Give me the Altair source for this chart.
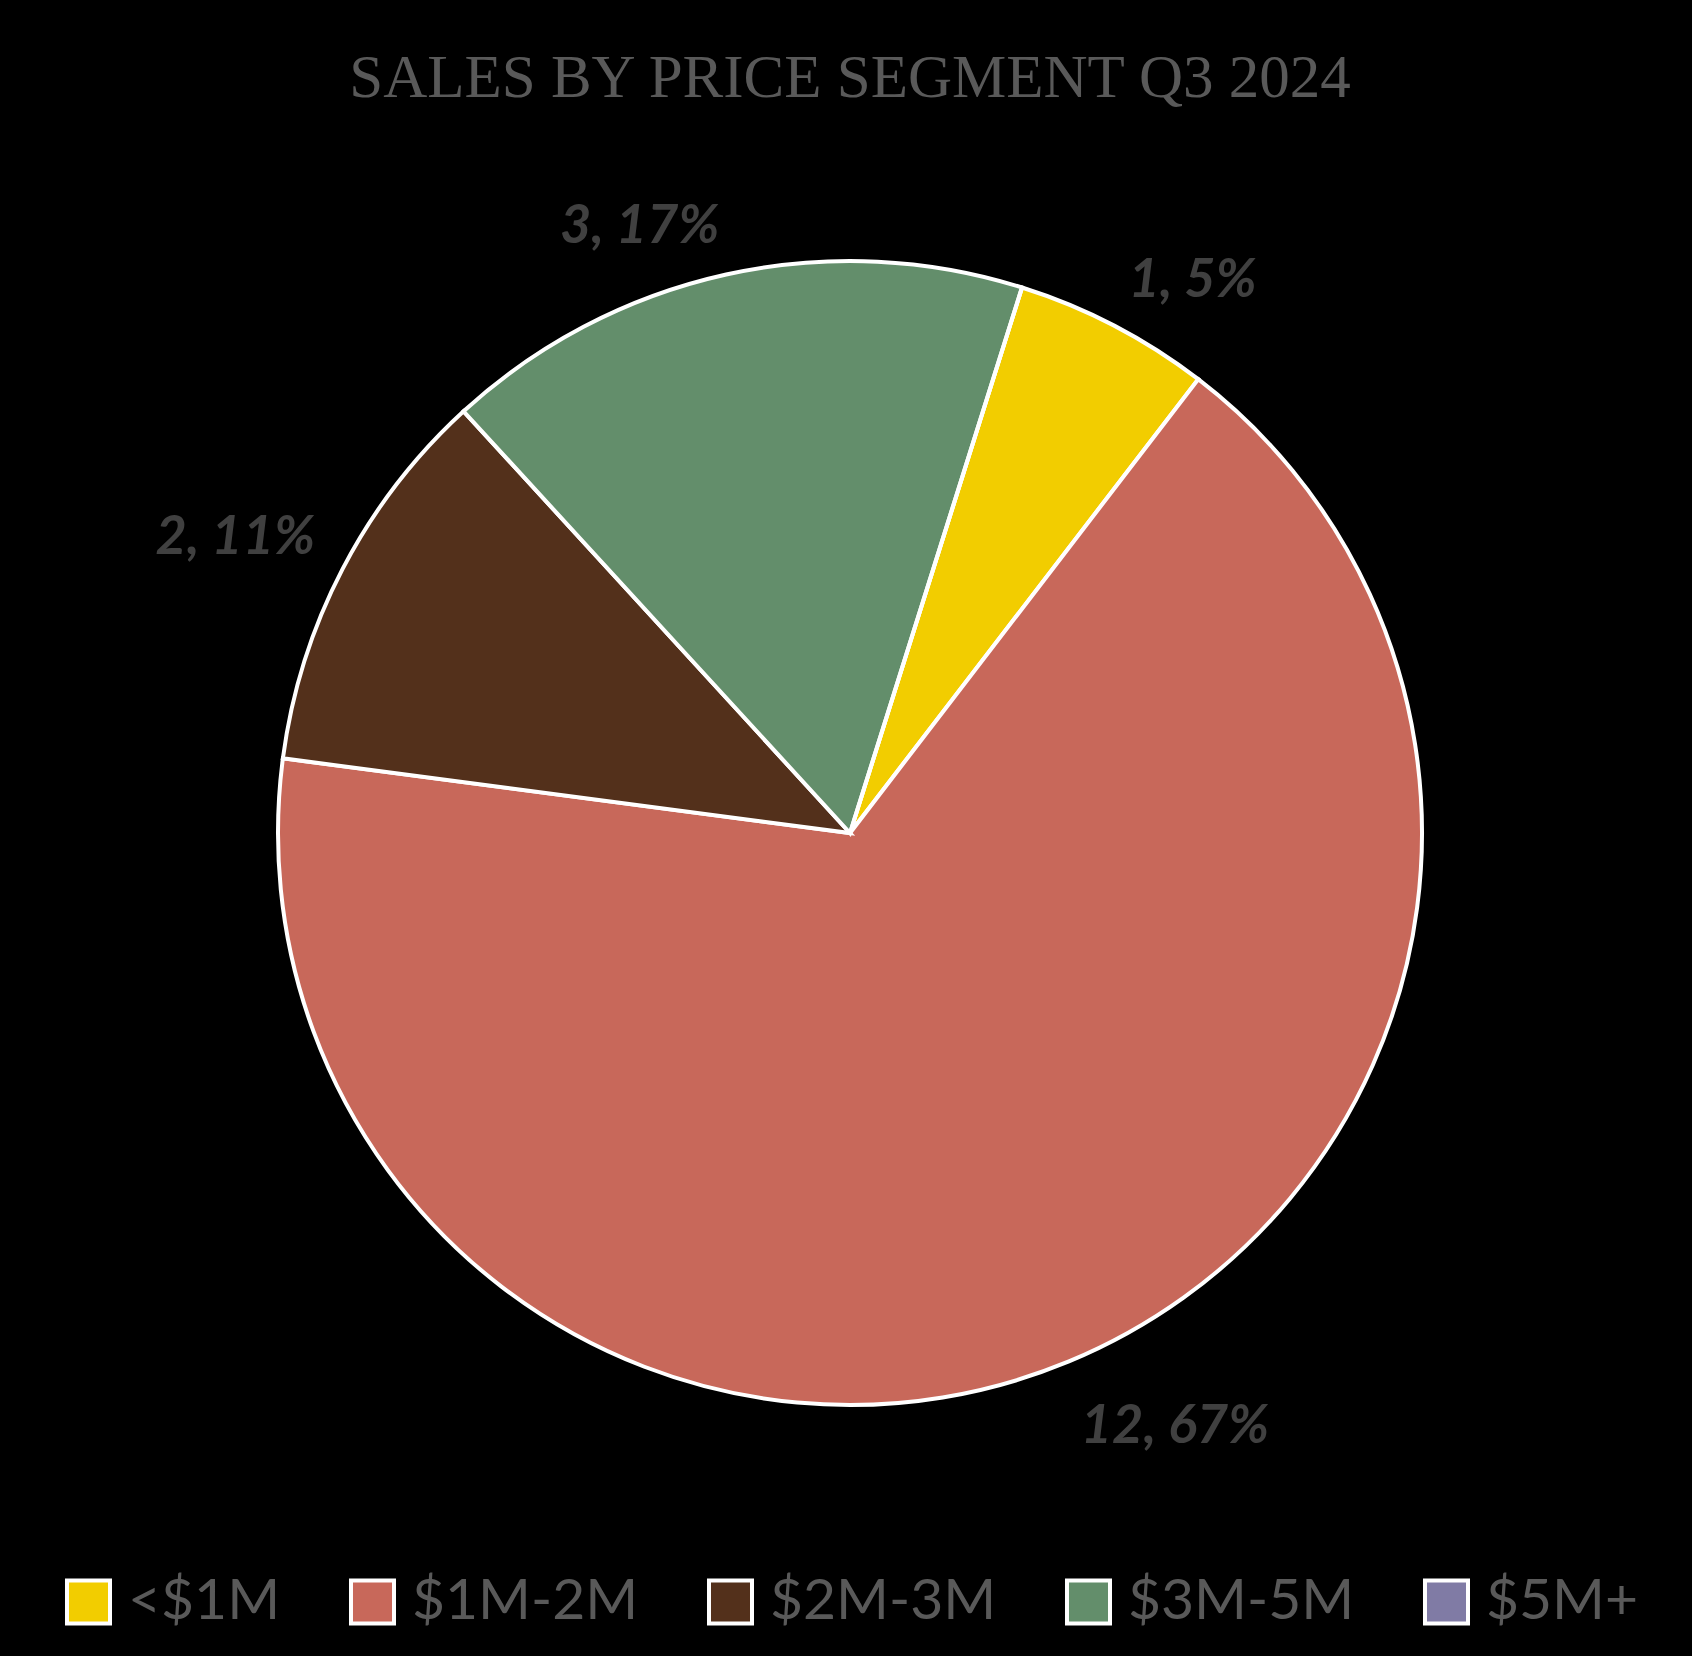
import math
import altair as alt
import pandas as pd

title_text = "SALES BY PRICE SEGMENT Q3 2024"
segments = ["<$1M", "$1M-2M", "$2M-3M", "$3M-5M", "$5M+"]
sales = [1, 12, 2, 3, 0]
labels = ["1, 5%", "12, 67%", "2, 11%", "3, 17%", "0, 0%"]
seg_order = [0, 1, 2, 3, 4]
colors = ["#F2CD00", "#C8685A", "#53301B", "#638E6B", "#807BA5"]

df = pd.DataFrame({"segment": segments, "sales": sales, "label": labels, "ord": seg_order})

start = 17.5 * math.pi / 180
theta_scale = alt.Scale(range=[start, start + 2 * math.pi])

CX, CY = 842, 825

arcs = alt.Chart(df).mark_arc(outerRadius=572, stroke="white", strokeWidth=4).encode(
    theta=alt.Theta("sales:Q", stack=True, scale=theta_scale),
    order=alt.Order("ord:Q"),
    color=alt.Color(
        "segment:N",
        sort=segments,
        scale=alt.Scale(domain=segments, range=colors),
        legend=alt.Legend(
            orient="none",
            legendX=52,
            legendY=1565,
            direction="horizontal",
            title=None,
            symbolType="square",
            symbolSize=1850,
            symbolStrokeColor="white",
            symbolStrokeWidth=4,
            symbolOpacity=1,
            labelFont="Lato",
            labelFontSize=57,
            labelFontWeight="normal",
            labelColor="#595959",
            labelOffset=11,
            labelLimit=0,
            columnPadding=61,
        ),
    ),
    x=alt.value(CX),
    y=alt.value(CY),
)

# label anchored by its corner nearest to the pie (like an outside-end label)
texts = (
    alt.Chart(df)
    .transform_filter("datum.sales > 0")
    .transform_joinaggregate(total="sum(sales)")
    .transform_window(cum="sum(sales)", sort=[alt.SortField("ord")], frame=[None, 0])
    .transform_calculate(
        ang=f"{start} + 2 * PI * (datum.cum - datum.sales / 2) / datum.total"
    )
    .mark_text(
        radius=603,
        dy=10,
        font="Lato",
        fontSize=54,
        fontWeight="bold",
        fontStyle="italic",
        color="#404040",
        align={"expr": "sin(datum.ang) > 0 ? 'left' : 'right'"},
        baseline={"expr": "cos(datum.ang) > 0 ? 'bottom' : 'top'"},
    )
    .encode(
        theta=alt.Theta("sales:Q", stack=True, scale=theta_scale),
        order=alt.Order("ord:Q"),
        detail="segment:N",
        text="label:N",
        x=alt.value(CX),
        y=alt.value(CY),
    )
)

title = alt.Chart(pd.DataFrame({"t": [title_text]})).mark_text(
    font="Liberation Serif",
    fontSize=61,
    color="#595959",
    align="center",
    baseline="middle",
).encode(text="t:N", x=alt.value(CX), y=alt.value(71))

chart = alt.layer(arcs, texts, title).properties(
    width=1676,
    height=1640,
    autosize=alt.AutoSizeParams(type="none"),
    padding=0,
    background="black",
).configure_view(stroke=None)

PAGE_TEMPLATE = """<!DOCTYPE html>
<html>
<head>
  <style>
    html, body { background: #000000; }
    #{{ output_div }}.vega-embed { width: 100%; display: flex; }
    #{{ output_div }}.vega-embed details,
    #{{ output_div }}.vega-embed details summary { position: relative; }
  </style>
  <script type="text/javascript" src="{{ base_url }}/vega@{{ vega_version }}"></script>
  <script type="text/javascript" src="{{ base_url }}/vega-lite@{{ vegalite_version }}"></script>
  <script type="text/javascript" src="{{ base_url }}/vega-embed@{{ vegaembed_version }}"></script>
</head>
<body>
  <div id="{{ output_div }}"></div>
  <script>
    var spec = {{ spec }};
    var embedOpt = {{ embed_options }};
    const el = document.getElementById('{{ output_div }}');
    vegaEmbed("#{{ output_div }}", spec, embedOpt).catch(function(error) {
      el.innerHTML = '<pre>' + error + '</pre>';
    });
  </script>
</body>
</html>
"""

try:
    import jinja2
    chart.save(
        "out.html",
        embed_options={"renderer": "svg", "actions": False},
        template=jinja2.Template(PAGE_TEMPLATE),
    )
except Exception:
    chart.save("out.html", embed_options={"renderer": "svg", "actions": False})
